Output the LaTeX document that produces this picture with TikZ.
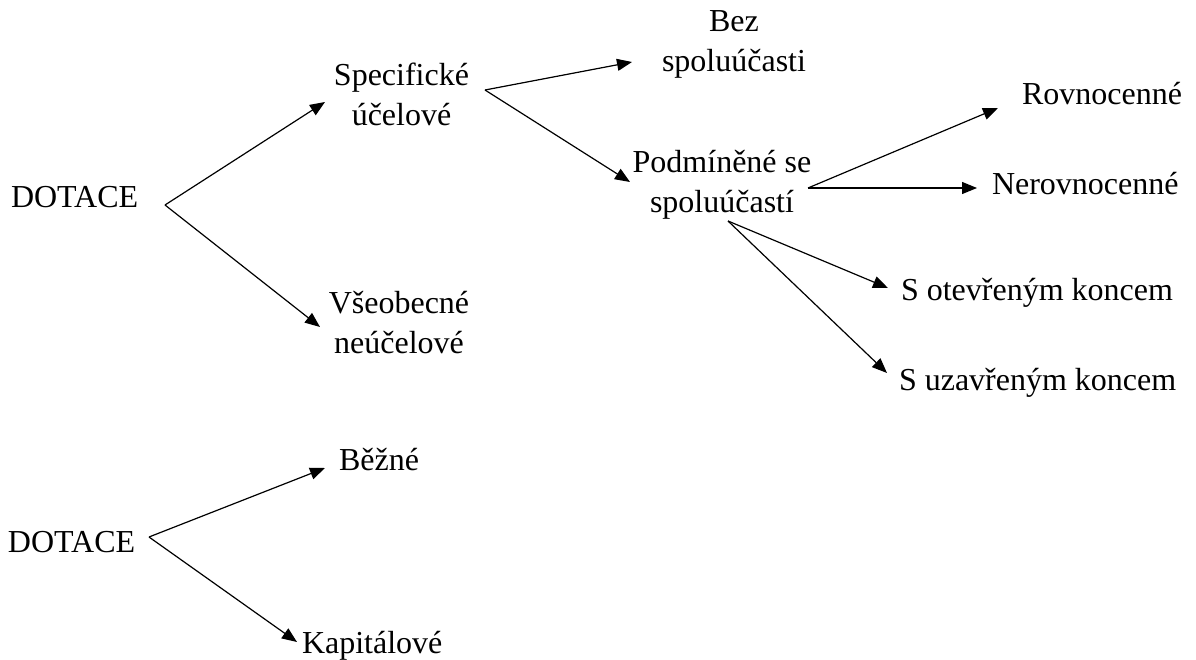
\documentclass[tikz,border=0pt]{standalone}
\usepackage{fontspec}
\setmainfont{Liberation Serif}
\newfontfamily\tnr{Liberation Serif}
\usetikzlibrary{arrows.meta}
\begin{document}
\begin{tikzpicture}[x=1pt,y=-1pt,
  lbl/.style={inner sep=0pt,outer sep=0pt,font=\tnr\fontsize{32}{40}\selectfont,align=center},
  arr/.style={line width=1.2pt,-{Triangle[length=15pt,width=12pt]}}]
\useasboundingbox (0,0) rectangle (1196,660);
% nodes
\node[lbl,anchor=base west] (dot1) at (11,208) {DOTACE};
\node[lbl,anchor=base] (spec) at (401.5,126) {Specifické\\účelové};
\node[lbl,anchor=base] (vseo) at (399,353) {Všeobecné\\neúčelové};
\node[lbl,anchor=base] (bez) at (734,72) {Bez\\spoluúčasti};
\node[lbl,anchor=base] (podm) at (722,213) {Podmíněné se\\spoluúčastí};
\node[lbl,anchor=base west] (rovn) at (1022,105) {Rovnocenné};
\node[lbl,anchor=base west] (nerovn) at (992,195) {Nerovnocenné};
\node[lbl,anchor=base west] (otev) at (901,300) {S otevřeným koncem};
\node[lbl,anchor=base west] (uzav) at (899,390) {S uzavřeným koncem};
\node[lbl,anchor=base west] (dot2) at (8,552) {DOTACE};
\node[lbl,anchor=base west] (bezne) at (339,470) {Běžné};
\node[lbl,anchor=base west] (kap) at (302,653) {Kapitálové};
% branch points and arrow tips
\coordinate (dot1-out) at (165,205);
\coordinate (spec-in) at (325,102);
\coordinate (vseo-in) at (320,327);
\coordinate (spec-out) at (485,90);
\coordinate (bez-in) at (632,62);
\coordinate (podm-in) at (630,182);
\coordinate (podm-out) at (808,188);
\coordinate (rovn-in) at (998,108);
\coordinate (nerovn-in) at (977,188);
\coordinate (podm-out2) at (728,221);
\coordinate (otev-in) at (888,288);
\coordinate (uzav-in) at (887,373);
\coordinate (dot2-out) at (149,537);
\coordinate (bezne-in) at (325,468);
\coordinate (kap-in) at (297,642);
% connectors
\draw[arr] (dot1-out) -- (spec-in);
\draw[arr] (dot1-out) -- (vseo-in);
\draw[arr] (spec-out) -- (bez-in);
\draw[arr] (spec-out) -- (podm-in);
\draw[arr] (podm-out) -- (rovn-in);
\draw[arr] (podm-out) -- (nerovn-in);
\draw[arr] (podm-out2) -- (otev-in);
\draw[arr] (podm-out2) -- (uzav-in);
\draw[arr] (dot2-out) -- (bezne-in);
\draw[arr] (dot2-out) -- (kap-in);
\end{tikzpicture}
\end{document}
